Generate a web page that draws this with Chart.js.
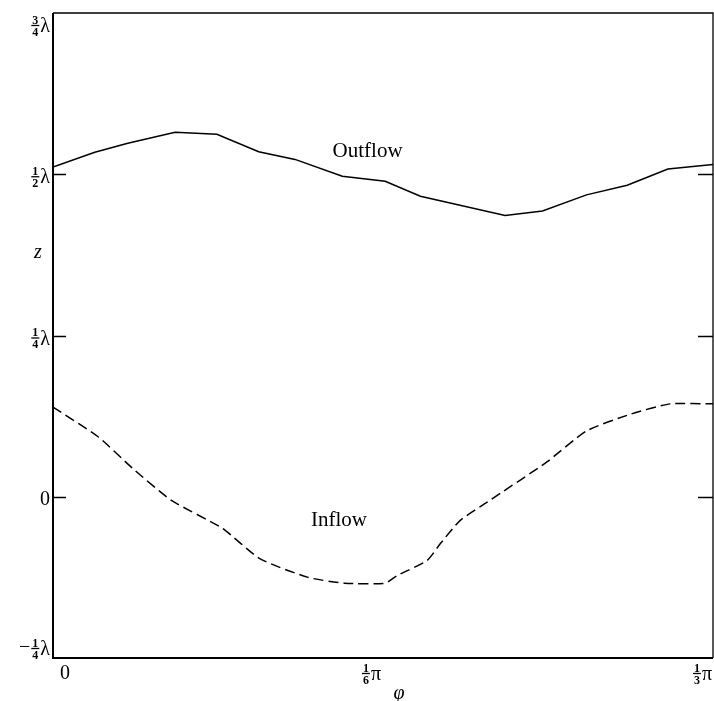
<!DOCTYPE html>
<html>
<head>
<meta charset="utf-8">
<script src="https://cdn.jsdelivr.net/npm/chart.js@4.4.1/dist/chart.umd.min.js"></script>
<style>
  html, body { margin: 0; padding: 0; background: #fff; }
  #chart { display: block; }
</style>
</head>
<body>
<canvas id="chart" width="714" height="701"></canvas>
<script>
// phi in degrees (0 .. 60 = pi/3), z in units of lambda
const phiOut = [0, 3.8, 6.8, 11.1, 14.9, 18.7, 22.0, 26.3, 30.2, 33.4, 41.1, 44.5, 48.5, 52.2, 55.9, 60];
const zOut   = [0.511, 0.534, 0.548, 0.565, 0.562, 0.535, 0.523, 0.497, 0.489, 0.466, 0.436, 0.443, 0.468, 0.483, 0.508, 0.515];

const phiIn = [0, 4.1, 7.3, 10.8, 15.4, 18.8, 23.2, 26.5, 30.2, 31.3, 34.0, 35.2, 37.0, 39.5, 44.9, 48.5, 52.5, 56.1, 60];
const zIn   = [0.139, 0.093, 0.043, -0.006, -0.049, -0.096, -0.125, -0.134, -0.134, -0.122, -0.099, -0.073, -0.037, -0.008, 0.054, 0.102, 0.128, 0.144, 0.144];

// tick labels: [sign, numerator, denominator, symbol]; plain text when no denominator
const xTicks = [0, 30, 60];
const xTickLabels = [['', '0'], ['', '1', '6', '\u03C0'], ['', '1', '3', '\u03C0']];
const yTicks = [-0.25, 0, 0.25, 0.5, 0.75];
const yTickLabels = [['\u2212', '1', '4', '\u03BB'], ['', '0'], ['', '1', '4', '\u03BB'], ['', '1', '2', '\u03BB'], ['', '3', '4', '\u03BB']];

const serif = "'Liberation Serif', 'DejaVu Serif', serif";

function toPoints(xs, ys) {
    return xs.map((x, i) => ({ x: x, y: ys[i] }));
}

// draws "-a/b sym" with a stacked fraction, right edge at rightX, centred on cy
function drawTickLabel(ctx, label, rightX, cy) {
    const [sign, num, den, sym] = label;
    ctx.textAlign = 'right';
    ctx.textBaseline = 'middle';
    if (!den) {
        ctx.font = '20px ' + serif;
        ctx.fillText(num, rightX, cy + 1);
        return;
    }
    ctx.font = '20px ' + serif;
    ctx.textBaseline = 'alphabetic';
    ctx.fillText(sym, rightX, cy + 7);
    const symW = ctx.measureText(sym).width;
    const fx = rightX - symW - 5;

    ctx.font = 'bold 12px ' + serif;
    ctx.textAlign = 'center';
    ctx.textBaseline = 'alphabetic';
    ctx.fillText(num, fx, cy - 1.5);
    ctx.textBaseline = 'top';
    ctx.fillText(den, fx, cy + 1.5);
    ctx.lineWidth = 1.3;
    ctx.beginPath();
    ctx.moveTo(fx - 4, cy + 0.5);
    ctx.lineTo(fx + 4, cy + 0.5);
    ctx.stroke();

    if (sign) {
        ctx.font = '20px ' + serif;
        ctx.textAlign = 'right';
        ctx.textBaseline = 'middle';
        ctx.fillText(sign, fx - 5, cy);
    }
}

// frame, inward ticks, tick labels and text annotations
const decorations = {
    id: 'decorations',
    afterDraw(chart) {
        const ctx = chart.ctx;
        const a = chart.chartArea;
        const yScale = chart.scales.y;
        const xScale = chart.scales.x;
        ctx.save();
        ctx.strokeStyle = '#000';
        ctx.fillStyle = '#000';

        // box
        ctx.lineWidth = 1.3;
        ctx.beginPath();
        ctx.moveTo(a.left, a.top);
        ctx.lineTo(a.right, a.top);
        ctx.lineTo(a.right, a.bottom);
        ctx.stroke();
        ctx.lineWidth = 2;
        ctx.beginPath();
        ctx.moveTo(a.left, a.top);
        ctx.lineTo(a.left, a.bottom);
        ctx.lineTo(a.right, a.bottom);
        ctx.stroke();

        // inward ticks on both vertical sides (the end ones sit on the frame)
        ctx.lineWidth = 1.3;
        yTicks.slice(1, -1).forEach(v => {
            const py = Math.round(yScale.getPixelForValue(v)) + 0.5;
            ctx.beginPath();
            ctx.moveTo(a.left, py);
            ctx.lineTo(a.left + 13, py);
            ctx.moveTo(a.right, py);
            ctx.lineTo(a.right - 15, py);
            ctx.stroke();
        });

        // y tick labels, pulled inside at the ends like the original
        yTicks.forEach((v, i) => {
            const py = yScale.getPixelForValue(v);
            const cy = Math.min(Math.max(py + 2, a.top + 12), a.bottom - 10);
            drawTickLabel(ctx, yTickLabels[i], a.left - 3, cy);
        });

        // x tick labels
        const xShift = [17, -2, -1];
        xTicks.forEach((v, i) => {
            const px = xScale.getPixelForValue(v);
            drawTickLabel(ctx, xTickLabels[i], px + xShift[i], a.bottom + 15);
        });

        // annotations
        ctx.textAlign = 'center';
        ctx.textBaseline = 'alphabetic';
        ctx.font = '21px ' + serif;
        ctx.fillText('Outflow', xScale.getPixelForValue(28.6), yScale.getPixelForValue(0.526));
        ctx.fillText('Inflow', xScale.getPixelForValue(26.0), yScale.getPixelForValue(-0.046));

        ctx.font = 'italic 20px ' + serif;
        ctx.fillText('z', 38, 258);
        ctx.fillText('\u03C6', 399, 699);
        ctx.restore();
    }
};

new Chart(document.getElementById('chart'), {
    type: 'line',
    data: {
        datasets: [
            {
                label: 'Outflow',
                data: toPoints(phiOut, zOut),
                borderColor: '#000',
                borderWidth: 1.5,
                pointRadius: 0,
                tension: 0,
                fill: false
            },
            {
                label: 'Inflow',
                data: toPoints(phiIn, zIn),
                borderColor: '#000',
                borderWidth: 1.5,
                borderDash: [10, 5],
                pointRadius: 0,
                tension: 0.2,
                fill: false
            }
        ]
    },
    options: {
        responsive: false,
        devicePixelRatio: 1,
        animation: false,
        layout: { padding: { top: 13, right: 1, left: 0, bottom: 0 } },
        plugins: {
            legend: { display: false },
            tooltip: { enabled: false }
        },
        scales: {
            x: {
                type: 'linear',
                min: 0,
                max: 60,
                afterBuildTicks: (s) => { s.ticks = xTicks.map(v => ({ value: v })); },
                afterFit: (s) => { s.height = 43; },
                grid: { display: false, drawTicks: false },
                border: { display: false },
                ticks: { display: false }
            },
            y: {
                type: 'linear',
                min: -0.25,
                max: 0.75,
                afterBuildTicks: (s) => { s.ticks = yTicks.map(v => ({ value: v })); },
                afterFit: (s) => { s.width = 53; },
                grid: { display: false, drawTicks: false },
                border: { display: false },
                ticks: { display: false }
            }
        }
    },
    plugins: [decorations]
});
</script>
</body>
</html>
